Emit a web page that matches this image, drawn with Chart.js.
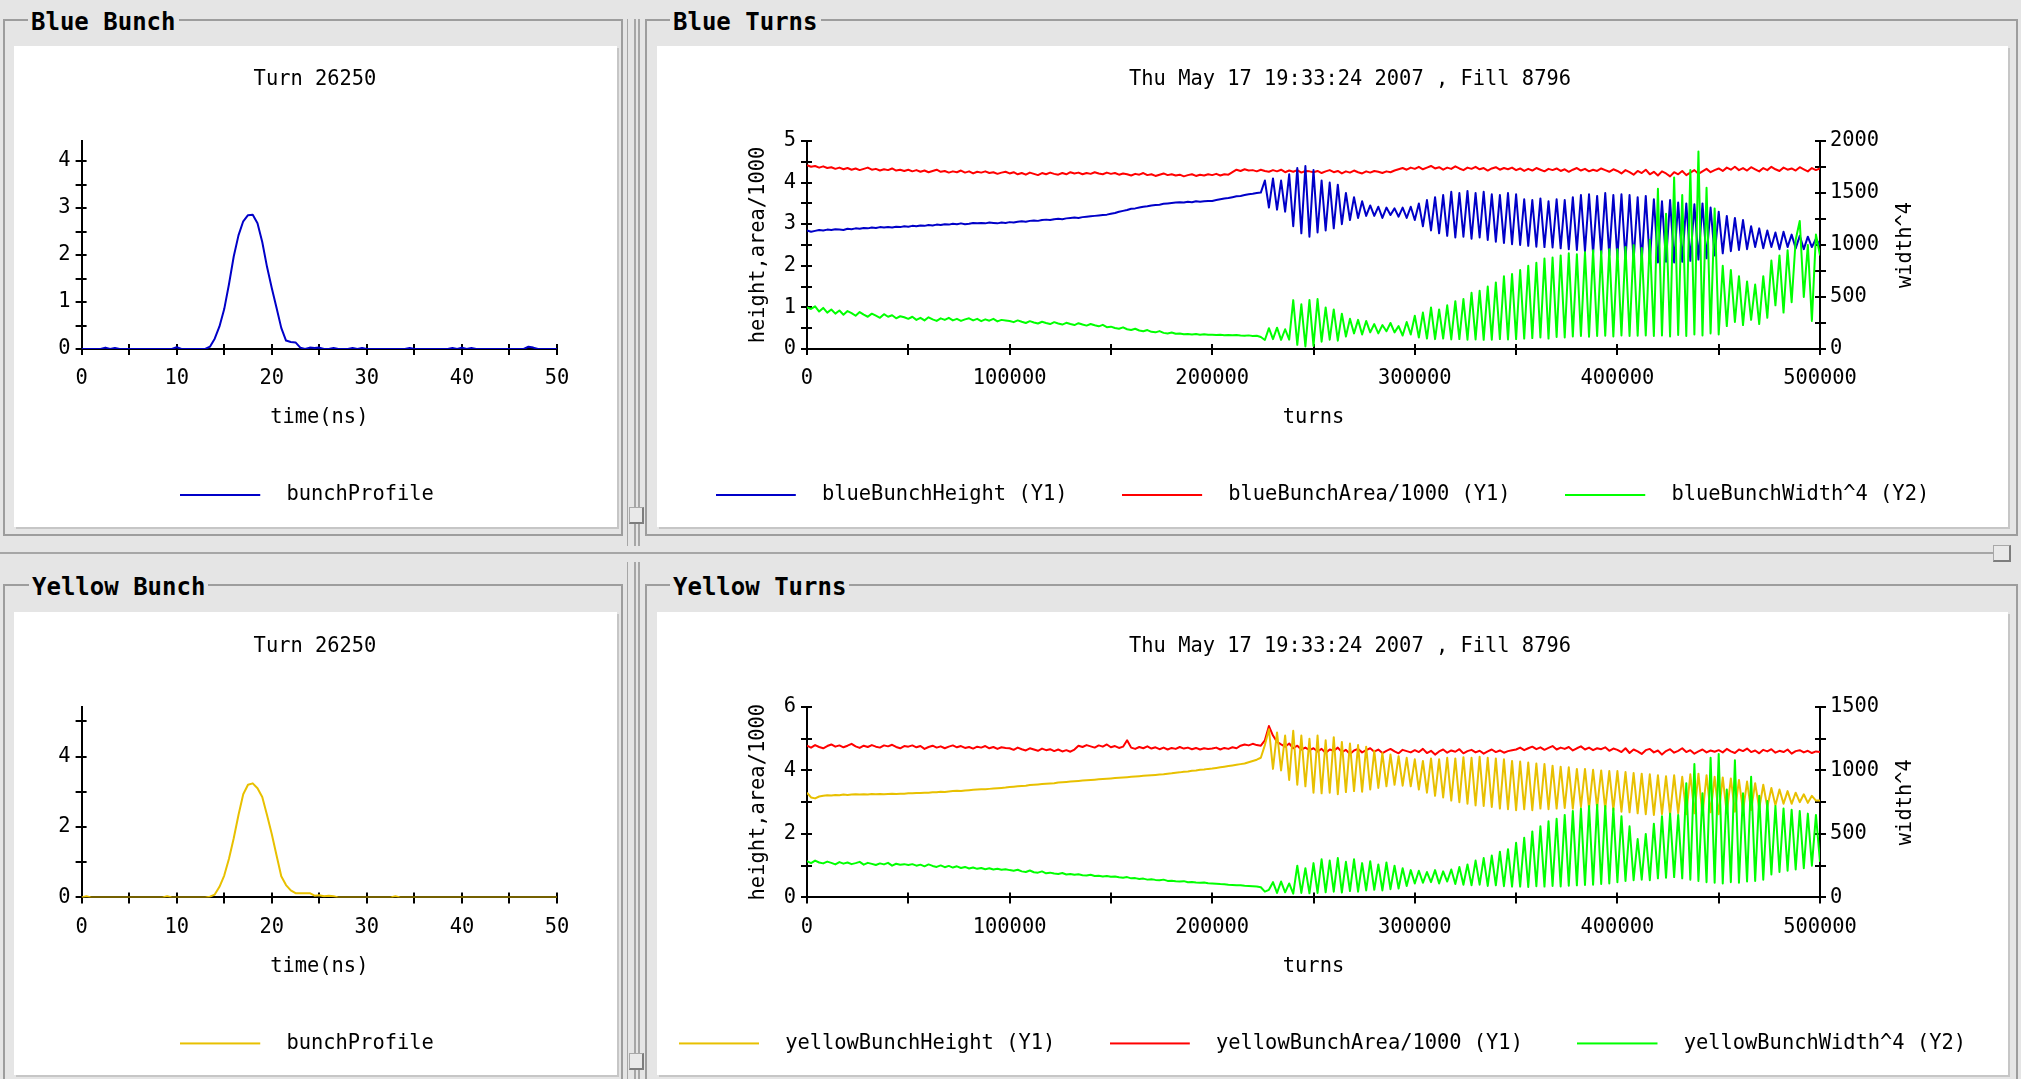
<!DOCTYPE html>
<html><head><meta charset="utf-8"><title>Bunch monitor</title>
<script src="https://cdn.jsdelivr.net/npm/chart.js@4.4.1/dist/chart.umd.min.js"></script>
<style>
html,body{margin:0;padding:0}
body{width:2021px;height:1079px;background:#e5e5e5;position:relative;overflow:hidden}
.frame{position:absolute;box-sizing:border-box;border:2px solid #9d9d9d}
.white{position:absolute;background:#fff;box-shadow:2px 2px 0 #c6c6c6}
.ptitle{position:absolute;background:#e5e5e5;font:bold 24px 'DejaVu Sans Mono',monospace;color:#000;line-height:28px;height:28px;padding:0 3px;white-space:pre}
.line{position:absolute;background:#a6a6a6}
.handle{position:absolute;box-sizing:border-box;background:#e9e9e9;border:1px solid #a8a8a8;border-right:2px solid #7d7d7d;border-bottom:2px solid #7d7d7d}
canvas{position:absolute;display:block}
</style></head><body>
<div class="frame" style="left:3px;top:19px;width:620px;height:517px"></div>
<div class="frame" style="left:645px;top:19px;width:1373px;height:517px"></div>
<div class="frame" style="left:3px;top:584px;width:620px;height:510px"></div>
<div class="frame" style="left:645px;top:584px;width:1373px;height:510px"></div>
<div class="line" style="left:627px;top:19px;width:1px;height:527px"></div>
<div class="line" style="left:634px;top:19px;width:2px;height:527px"></div>
<div class="line" style="left:638px;top:19px;width:2px;height:527px"></div>
<div class="line" style="left:627px;top:562px;width:1px;height:517px"></div>
<div class="line" style="left:634px;top:562px;width:2px;height:517px"></div>
<div class="line" style="left:638px;top:562px;width:2px;height:517px"></div>
<div class="line" style="left:0;top:552px;width:1993px;height:2px"></div>
<div class="handle" style="left:629px;top:507px;width:15px;height:17px"></div>
<div class="handle" style="left:629px;top:1053px;width:15px;height:17px"></div>
<div class="handle" style="left:1993px;top:545px;width:18px;height:17px"></div>
<div class="white" style="left:14px;top:46px;width:603px;height:481px"></div>
<div class="white" style="left:657px;top:46px;width:1351px;height:481px"></div>
<div class="white" style="left:14px;top:612px;width:603px;height:463px"></div>
<div class="white" style="left:657px;top:612px;width:1351px;height:463px"></div>
<div class="ptitle" style="left:28px;top:8px">Blue Bunch</div>
<div class="ptitle" style="left:670px;top:8px">Blue Turns</div>
<div class="ptitle" style="left:29px;top:573px">Yellow Bunch</div>
<div class="ptitle" style="left:670px;top:573px">Yellow Turns</div>
<canvas id="cBB" width="603" height="481" style="left:14px;top:46px"></canvas>
<canvas id="cYB" width="603" height="463" style="left:14px;top:612px"></canvas>
<canvas id="cBT" width="1560" height="481" style="left:560px;top:46px"></canvas>
<canvas id="cYT" width="1560" height="463" style="left:560px;top:612px"></canvas>
<script>
const FONT = "'DejaVu Sans Mono', 'Liberation Mono', monospace";
const FS = 20.4;

// ---------------- data ----------------
const bunchTime = [
0,0.5,1,1.5,2,2.5,3,3.5,4,4.5,
5,5.5,6,6.5,7,7.5,8,8.5,9,9.5,
10,10.5,11,11.5,12,12.5,13,13.5,14,14.5,
15,15.5,16,16.5,17,17.5,18,18.5,19,19.5,
20,20.5,21,21.5,22,22.5,23,23.5,24,24.5,
25,25.5,26,26.5,27,27.5,28,28.5,29,29.5,
30,30.5,31,31.5,32,32.5,33,33.5,34,34.5,
35,35.5,36,36.5,37,37.5,38,38.5,39,39.5,
40,40.5,41,41.5,42,42.5,43,43.5,44,44.5,
45,45.5,46,46.5,47,47.5,48,48.5,49,49.5,
50];
const blueProfile = [
0,0,0,0,0,0.03,0,0.02,0,0,
0,0,0,0,0,0,0,0,0,0,
0.04,0,0,0,0,0,0,0.05,0.22,0.48,
0.85,1.38,1.97,2.42,2.72,2.85,2.86,2.68,2.28,1.75,
1.3,0.88,0.45,0.18,0.15,0.14,0.03,0,0.03,0.02,
0.03,0,0,0.02,0,0,0,0.02,0,0.02,
0,0,0,0,0,0,0,0,0,0.02,
0,0,0,0,0,0,0,0,0.02,0,
0.03,0,0.02,0,0,0,0,0,0,0,
0,0,0,0,0.05,0.03,0,0,0,0,
0];
const yellowProfile = [
0,0.03,0,0,0,0,0,0,0,0,
0,0,0,0,0,0,0,0,0.03,0,
0,0,0,0,0,0,0,0.02,0.08,0.3,
0.62,1.1,1.68,2.34,2.93,3.2,3.24,3.1,2.85,2.34,
1.8,1.2,0.6,0.35,0.2,0.12,0.12,0.12,0.12,0.05,
0.06,0.03,0.05,0.03,0,0,0,0,0,0,
0,0,0,0,0,0,0.03,0,0,0,
0,0,0,0,0,0,0,0,0,0,
0,0,0,0,0,0,0,0,0,0,
0,0,0,0,0,0,0,0,0,0,
0];

const turns = [
0,2000,4000,6000,8000,10000,12000,14000,16000,18000,20000,22000,24000,26000,28000,30000,32000,34000,36000,38000,40000,42000,44000,46000,48000,
50000,52000,54000,56000,58000,60000,62000,64000,66000,68000,70000,72000,74000,76000,78000,80000,82000,84000,86000,88000,90000,92000,94000,96000,98000,
100000,102000,104000,106000,108000,110000,112000,114000,116000,118000,120000,122000,124000,126000,128000,130000,132000,134000,136000,138000,140000,142000,144000,146000,148000,
150000,152000,154000,156000,158000,160000,162000,164000,166000,168000,170000,172000,174000,176000,178000,180000,182000,184000,186000,188000,190000,192000,194000,196000,198000,
200000,202000,204000,206000,208000,210000,212000,214000,216000,218000,220000,222000,224000,226000,228000,230000,232000,234000,236000,238000,240000,242000,244000,246000,248000,
250000,252000,254000,256000,258000,260000,262000,264000,266000,268000,270000,272000,274000,276000,278000,280000,282000,284000,286000,288000,290000,292000,294000,296000,298000,
300000,302000,304000,306000,308000,310000,312000,314000,316000,318000,320000,322000,324000,326000,328000,330000,332000,334000,336000,338000,340000,342000,344000,346000,348000,
350000,352000,354000,356000,358000,360000,362000,364000,366000,368000,370000,372000,374000,376000,378000,380000,382000,384000,386000,388000,390000,392000,394000,396000,398000,
400000,402000,404000,406000,408000,410000,412000,414000,416000,418000,420000,422000,424000,426000,428000,430000,432000,434000,436000,438000,440000,442000,444000,446000,448000,
450000,452000,454000,456000,458000,460000,462000,464000,466000,468000,470000,472000,474000,476000,478000,480000,482000,484000,486000,488000,490000,492000,494000,496000,498000,
500000];

const blueBunchHeight = [
2.85,2.82,2.84,2.86,2.85,2.87,2.86,2.88,2.87,2.86,2.89,2.88,2.90,2.89,2.91,2.90,2.92,2.91,2.93,2.92,2.93,2.92,2.94,2.93,2.95,
2.94,2.96,2.95,2.97,2.96,2.98,2.97,2.99,2.98,3.00,2.99,3.01,3.00,3.02,3.00,3.01,3.03,3.02,3.03,3.02,3.04,3.03,3.02,3.04,3.03,
3.05,3.04,3.06,3.07,3.06,3.08,3.09,3.08,3.10,3.11,3.10,3.12,3.13,3.12,3.14,3.15,3.16,3.15,3.17,3.18,3.19,3.20,3.21,3.22,3.23,
3.25,3.27,3.30,3.32,3.34,3.37,3.38,3.40,3.42,3.43,3.45,3.46,3.47,3.49,3.50,3.51,3.52,3.53,3.52,3.54,3.53,3.55,3.54,3.55,3.56,
3.56,3.58,3.60,3.62,3.63,3.65,3.67,3.68,3.70,3.72,3.73,3.75,3.76,4.05,3.40,4.10,3.35,4.05,3.30,4.20,2.95,4.35,2.78,4.40,2.70,
4.30,2.80,4.05,2.85,4.00,2.90,3.95,3.00,3.75,3.10,3.65,3.15,3.55,3.20,3.45,3.20,3.42,3.15,3.40,3.22,3.38,3.18,3.40,3.15,3.42,
3.10,3.50,2.95,3.58,2.85,3.65,2.78,3.70,2.72,3.78,2.68,3.75,2.70,3.80,2.65,3.75,2.68,3.78,2.62,3.72,2.58,3.70,2.55,3.75,2.52,
3.72,2.50,3.60,2.48,3.58,2.46,3.62,2.45,3.55,2.44,3.60,2.42,3.58,2.40,3.65,2.38,3.70,2.35,3.72,2.30,3.68,2.28,3.75,2.25,3.70,
2.20,3.72,2.15,3.70,2.12,3.65,2.10,3.68,2.10,3.60,2.08,3.55,2.10,3.58,2.08,3.52,2.10,3.50,2.12,3.48,2.15,3.50,2.18,3.40,2.25,
3.30,2.30,3.20,2.35,3.15,2.38,3.10,2.40,2.95,2.45,2.90,2.42,2.85,2.45,2.80,2.40,2.82,2.45,2.75,2.42,2.72,2.40,2.70,2.45,2.65,
2.50];
const blueBunchArea = [
4.42,4.38,4.40,4.36,4.39,4.35,4.37,4.33,4.36,4.32,4.35,4.31,4.34,4.30,4.33,4.36,4.31,4.33,4.29,4.32,4.30,4.34,4.29,4.31,4.28,
4.31,4.27,4.30,4.26,4.29,4.25,4.28,4.31,4.26,4.28,4.24,4.27,4.25,4.29,4.24,4.27,4.22,4.26,4.24,4.27,4.23,4.25,4.21,4.24,4.26,
4.22,4.25,4.20,4.23,4.19,4.24,4.21,4.18,4.23,4.20,4.24,4.21,4.19,4.23,4.20,4.25,4.22,4.24,4.20,4.23,4.21,4.25,4.22,4.20,4.24,
4.21,4.23,4.19,4.22,4.20,4.17,4.21,4.19,4.23,4.18,4.20,4.16,4.19,4.22,4.18,4.20,4.17,4.19,4.15,4.18,4.20,4.16,4.19,4.17,4.20,
4.18,4.21,4.17,4.20,4.19,4.25,4.31,4.28,4.32,4.29,4.30,4.27,4.31,4.28,4.26,4.30,4.27,4.31,4.25,4.29,4.26,4.30,4.24,4.28,4.27,
4.25,4.28,4.23,4.27,4.30,4.25,4.28,4.22,4.27,4.24,4.29,4.25,4.22,4.27,4.24,4.28,4.26,4.23,4.27,4.25,4.29,4.32,4.35,4.31,4.36,
4.33,4.38,4.32,4.36,4.40,4.34,4.37,4.31,4.36,4.33,4.39,4.34,4.30,4.36,4.33,4.38,4.32,4.35,4.29,4.34,4.37,4.31,4.35,4.32,4.36,
4.30,4.34,4.28,4.33,4.29,4.35,4.31,4.27,4.33,4.30,4.34,4.28,4.32,4.26,4.31,4.35,4.29,4.33,4.27,4.31,4.28,4.34,4.30,4.26,4.32,
4.28,4.22,4.30,4.25,4.19,4.28,4.23,4.31,4.20,4.26,4.17,4.27,4.22,4.15,4.25,4.20,4.28,4.18,4.24,4.30,4.21,4.27,4.33,4.25,4.30,
4.34,4.28,4.36,4.31,4.38,4.30,4.35,4.29,4.37,4.32,4.27,4.35,4.30,4.38,4.32,4.28,4.36,4.31,4.34,4.29,4.37,4.32,4.27,4.35,4.30,
4.34];
const blueBunchWidth4 = [
400,385,410,360,395,350,380,340,370,330,365,345,320,355,330,310,340,320,300,335,310,325,295,315,305,
290,310,280,300,275,305,285,270,295,280,300,275,290,270,285,295,275,290,268,285,272,290,265,280,275,
270,258,275,262,250,268,255,245,262,250,240,258,245,235,252,240,230,248,236,225,240,228,218,232,210,
215,202,195,208,190,182,195,178,170,182,165,160,172,155,150,158,146,150,142,145,140,144,138,142,136,
138,135,137,133,135,132,134,130,128,131,126,128,115,87,200,95,205,88,190,90,470,40,430,25,470,
30,480,70,400,90,380,80,340,120,290,150,280,140,270,160,240,150,230,170,250,160,220,130,260,140,
320,110,350,100,400,95,380,100,420,92,460,95,480,90,540,92,560,88,600,90,640,95,700,92,720,
95,760,100,800,105,830,110,870,100,880,115,900,110,920,120,910,125,930,118,950,125,940,128,960,120,
960,130,980,125,1000,128,970,130,1050,125,1540,130,1300,120,1650,135,1480,125,1720,140,1900,130,1550,150,1350,
140,800,220,760,260,700,230,650,280,620,240,700,300,850,420,900,350,950,450,1050,1230,500,1000,270,1100,
900];

const yellowBunchHeight = [
3.30,3.15,3.12,3.18,3.20,3.22,3.21,3.23,3.22,3.24,3.23,3.24,3.25,3.24,3.25,3.24,3.26,3.25,3.26,3.25,3.26,3.27,3.26,3.27,3.27,
3.28,3.28,3.29,3.29,3.30,3.30,3.31,3.31,3.33,3.32,3.34,3.35,3.36,3.35,3.37,3.38,3.39,3.40,3.41,3.41,3.42,3.43,3.44,3.45,3.46,
3.48,3.49,3.50,3.51,3.52,3.54,3.55,3.56,3.57,3.58,3.59,3.60,3.62,3.63,3.64,3.65,3.66,3.67,3.68,3.69,3.70,3.71,3.72,3.73,3.74,
3.75,3.76,3.77,3.78,3.79,3.80,3.81,3.82,3.83,3.84,3.85,3.86,3.87,3.88,3.90,3.91,3.93,3.94,3.96,3.97,3.99,4.00,4.02,4.03,4.05,
4.06,4.08,4.10,4.12,4.14,4.16,4.18,4.20,4.22,4.26,4.30,4.34,4.40,4.80,5.30,4.05,5.20,4.00,5.10,3.70,5.25,3.55,5.10,3.50,5.00,
3.30,5.10,3.28,4.95,3.30,5.05,3.25,4.90,3.32,4.85,3.35,4.80,3.33,4.75,3.40,4.62,3.45,4.55,3.50,4.50,3.55,4.45,3.52,4.40,3.50,
4.35,3.40,4.30,3.30,4.38,3.20,4.35,3.15,4.40,3.05,4.38,3.00,4.42,2.95,4.40,2.90,4.43,2.88,4.40,2.85,4.38,2.80,4.35,2.78,4.30,
2.75,4.28,2.78,4.25,2.75,4.22,2.80,4.20,2.78,4.15,2.80,4.12,2.82,4.10,2.80,4.05,2.85,4.05,2.80,4.02,2.82,4.00,2.78,3.98,2.75,
3.98,2.70,3.95,2.68,3.92,2.65,3.90,2.62,3.88,2.60,3.85,2.62,3.82,2.60,3.85,2.65,3.80,2.62,3.88,2.65,3.90,2.60,3.85,2.68,3.80,
2.62,3.78,2.65,3.75,2.70,3.70,2.72,3.65,2.75,3.60,2.80,3.55,2.85,3.45,2.90,3.40,2.95,3.35,2.95,3.30,3.00,3.25,2.98,3.20,3.05,
3.05];
const yellowBunchArea = [
4.78,4.72,4.80,4.74,4.70,4.77,4.82,4.75,4.79,4.73,4.78,4.84,4.76,4.71,4.78,4.74,4.80,4.75,4.72,4.79,4.76,4.81,4.74,4.70,4.77,
4.75,4.79,4.73,4.77,4.68,4.74,4.78,4.72,4.76,4.70,4.75,4.79,4.73,4.77,4.71,4.74,4.69,4.75,4.72,4.77,4.70,4.74,4.68,4.73,4.71,
4.70,4.65,4.72,4.67,4.63,4.70,4.66,4.62,4.69,4.64,4.67,4.61,4.66,4.60,4.64,4.59,4.66,4.78,4.74,4.80,4.76,4.72,4.79,4.75,4.82,
4.73,4.77,4.71,4.75,4.95,4.72,4.68,4.74,4.70,4.76,4.69,4.73,4.67,4.72,4.66,4.71,4.68,4.74,4.69,4.72,4.67,4.71,4.66,4.70,4.68,
4.69,4.72,4.66,4.71,4.68,4.73,4.70,4.78,4.82,4.79,4.84,4.80,4.78,4.95,5.40,5.10,4.90,4.82,4.75,4.85,4.70,4.78,4.66,4.72,4.64,
4.70,4.60,4.68,4.55,4.66,4.62,4.72,4.58,4.65,4.52,4.63,4.68,4.57,4.64,4.70,4.59,4.66,4.55,4.62,4.68,4.60,4.54,4.65,4.61,4.57,
4.64,4.58,4.68,4.55,4.62,4.50,4.60,4.66,4.56,4.63,4.59,4.67,4.54,4.61,4.65,4.57,4.62,4.53,4.60,4.66,4.58,4.63,4.56,4.61,4.64,
4.66,4.72,4.64,4.70,4.75,4.67,4.73,4.65,4.71,4.77,4.66,4.72,4.68,4.74,4.63,4.70,4.76,4.66,4.72,4.64,4.70,4.67,4.73,4.62,4.69,
4.65,4.58,4.70,4.55,4.66,4.60,4.52,4.64,4.68,4.57,4.63,4.50,4.61,4.67,4.56,4.62,4.70,4.58,4.64,4.53,4.60,4.66,4.57,4.63,4.59,
4.64,4.57,4.68,4.60,4.55,4.66,4.61,4.69,4.58,4.63,4.54,4.65,4.60,4.67,4.56,4.62,4.58,4.66,4.53,4.61,4.64,4.57,4.62,4.55,4.60,
4.58];
const yellowBunchWidth4 = [
285,270,290,275,268,282,272,260,278,266,275,262,270,280,258,272,264,255,268,260,272,250,265,258,262,
255,262,250,258,245,260,248,240,252,238,248,235,245,232,240,228,236,225,232,222,230,220,226,218,222,
215,210,218,205,200,212,198,195,205,190,195,188,185,192,180,185,178,182,175,172,178,168,170,165,168,
162,165,158,155,160,150,152,145,148,140,143,138,135,140,130,132,128,125,128,120,122,118,115,118,112,
110,108,105,103,100,98,95,96,92,90,88,86,80,45,60,120,35,125,40,110,30,250,35,230,32,
270,35,300,40,290,45,310,38,280,50,300,45,270,55,285,60,260,55,275,65,250,70,230,90,215,
110,210,115,200,120,215,110,205,125,220,105,240,100,260,95,290,100,310,90,330,95,360,88,380,85,
430,85,470,82,520,88,560,85,600,90,620,86,650,92,680,95,700,98,720,100,730,105,720,110,700,
120,640,130,560,135,460,140,500,135,580,150,640,155,660,160,650,150,900,140,1050,130,820,120,1100,115,
1130,110,850,120,1080,115,820,125,950,130,800,140,760,180,720,200,700,210,690,220,680,230,660,250,650,
280];

// tick positions
const bunchTimeTicks = [0,5,10,15,20,25,30,35,40,45,50];
const blueBunchYTicks = [0,0.5,1,1.5,2,2.5,3,3.5,4];
const yellowBunchYTicks = [0,1,2,3,4,5];
const turnTicks = [0,50000,100000,150000,200000,250000,300000,350000,400000,450000,500000];
const blueTurnsY1Ticks = [0,0.5,1,1.5,2,2.5,3,3.5,4,4.5,5];
const blueTurnsY2Ticks = [0,250,500,750,1000,1250,1500,1750,2000];
const yellowTurnsY1Ticks = [0,1,2,3,4,5,6];
const yellowTurnsY2Ticks = [0,250,500,750,1000,1250,1500];

const bunchTitle = 'Turn 26250';
const turnsTitle = 'Thu May 17 19:33:24 2007 , Fill 8796';

// ---------------- styling / helpers ----------------
const BLUE = '#0000c8', RED = '#ff0000', GREEN = '#00ff00', YELLOW = '#e8c000';

function pts(xs, ys){ return xs.map((x, i) => ({x: x, y: ys[i]})); }
function fnt(){ return {family: FONT, size: FS}; }

function xAxis(min, max, ticks, every, title){
  return {type:'linear', position:'bottom', min:min, max:max,
    afterBuildTicks: s => { s.ticks = ticks.map(v => ({value: v})); },
    afterFit: s => { s.height = 81.24; },
    grid:{drawOnChartArea:false, drawTicks:true, tickLength:6, lineWidth:2, color:'#000'},
    border:{display:true, color:'#000', width:2},
    ticks:{autoSkip:false, maxRotation:0, minRotation:0, padding:11.76, color:'#000', font:fnt(),
      callback: v => (v % every === 0 ? String(v) : '')},
    title:{display:true, text:title, color:'#000', font:fnt(), padding:{top:0, bottom:0}}};
}
function yAxis(pos, min, max, ticks, every, width, title, titlePad){
  return {type:'linear', position:pos, min:min, max:max,
    afterBuildTicks: s => { s.ticks = ticks.map(v => ({value: v})); },
    afterFit: s => { s.width = width; },
    grid:{drawOnChartArea:false, drawTicks:true, tickLength:6, lineWidth:2, color:'#000'},
    border:{display:true, color:'#000', width:2},
    ticks:{autoSkip:false, padding:(pos === 'left' ? 5 : 4), color:'#000', font:fnt(),
      callback: v => (v % every === 0 ? String(v) : '')},
    title:{display:!!title, text:title || '', color:'#000', font:fnt(), padding:{top:titlePad || 0, bottom:0}}};
}
function swatch(color){
  const c = document.createElement('canvas');
  c.width = 96; c.height = 4;
  const g = c.getContext('2d');
  g.strokeStyle = color; g.lineWidth = 2;
  g.beginPath(); g.moveTo(0, 2); g.lineTo(80, 2); g.stroke();
  return c;
}
function legendCfg(){
  return {display:true, position:'bottom', align:'center',
    labels:{usePointStyle:true, pointStyleWidth:96, padding:54.56, color:'#000', font:fnt(),
      generateLabels: ch => ch.data.datasets.map((d, i) => ({
        text:d.label, datasetIndex:i, hidden:false, pointStyle:swatch(d.borderColor),
        fillStyle:d.borderColor, strokeStyle:d.borderColor, lineWidth:0, fontColor:'#000'}))}};
}
const decor = {
  id:'decor',
  beforeDatasetsDraw(chart){
    const ctx = chart.ctx, a = chart.chartArea;
    ctx.save(); ctx.strokeStyle = '#000'; ctx.lineWidth = 2;
    Object.values(chart.scales).forEach(s => {
      s.ticks.forEach(t => {
        const p = Math.round(s.getPixelForValue(t.value));
        ctx.beginPath();
        if (s.axis === 'x') { ctx.moveTo(p, a.bottom); ctx.lineTo(p, a.bottom - 5); }
        else if (s.position === 'left') { ctx.moveTo(a.left, p); ctx.lineTo(a.left + 5, p); }
        else { ctx.moveTo(a.right, p); ctx.lineTo(a.right - 5, p); }
        ctx.stroke();
      });
    });
    ctx.restore();
  },
  afterDraw(chart, args, o){
    const ctx = chart.ctx, a = chart.chartArea;
    ctx.save(); ctx.fillStyle = '#000'; ctx.font = FS + 'px ' + FONT;
    ctx.textAlign = 'center'; ctx.textBaseline = 'middle';
    if (o.title) ctx.fillText(o.title, o.titleX, o.titleY);
    if (o.rightTitle) {
      ctx.translate(a.right + o.rightDx, (a.top + a.bottom) / 2);
      ctx.rotate(-Math.PI / 2);
      ctx.fillText(o.rightTitle, 0, 0);
    }
    ctx.restore();
  }
};
function line(label, xs, ys, color, axis, order){
  return {label:label, data:pts(xs, ys), borderColor:color, backgroundColor:color, borderWidth:2,
    pointRadius:0, tension:0, fill:false, borderJoinStyle:'round', yAxisID:axis, order:order};
}
function makeChart(id, datasets, scales, pad, deco){
  return new Chart(document.getElementById(id), {
    type:'line',
    data:{datasets:datasets},
    options:{responsive:false, animation:false, devicePixelRatio:1, events:[],
      layout:{padding:pad}, scales:scales,
      plugins:{legend:legendCfg(), tooltip:{enabled:false}, title:{display:false}, decor:deco}},
    plugins:[decor]
  });
}

// Blue Bunch
makeChart('cBB',
  [line('bunchProfile', bunchTime, blueProfile, BLUE, 'y', 0)],
  {x:xAxis(0, 50, bunchTimeTicks, 10, 'time(ns)'),
   y:yAxis('left', 0, 4.43, blueBunchYTicks, 1, 24.6)},
  {left:43, right:60, top:95, bottom:11.8},
  {title:bunchTitle, titleX:301, titleY:34});

// Yellow Bunch
makeChart('cYB',
  [line('bunchProfile', bunchTime, yellowProfile, YELLOW, 'y', 0)],
  {x:xAxis(0, 50, bunchTimeTicks, 10, 'time(ns)'),
   y:yAxis('left', 0, 5.41, yellowBunchYTicks, 2, 24.6)},
  {left:43, right:60, top:95, bottom:11.4},
  {title:bunchTitle, titleX:301, titleY:34.5});

// Blue Turns
makeChart('cBT',
  [line('blueBunchHeight (Y1)', turns, blueBunchHeight, BLUE, 'y', 1),
   line('blueBunchArea/1000 (Y1)', turns, blueBunchArea, RED, 'y', 2),
   line('blueBunchWidth^4 (Y2)', turns, blueBunchWidth4, GREEN, 'y2', 0)],
  {x:xAxis(0, 500000, turnTicks, 100000, 'turns'),
   y:yAxis('left', 0, 5, blueTurnsY1Ticks, 1, 227, 'height,area/1000', 166.76),
   y2:yAxis('right', 0, 2000, blueTurnsY2Ticks, 500, 245)},
  {left:20, right:55, top:95, bottom:11.8},
  {title:turnsTitle, titleX:790, titleY:34, rightTitle:'width^4', rightDx:85.6});

// Yellow Turns
makeChart('cYT',
  [line('yellowBunchHeight (Y1)', turns, yellowBunchHeight, YELLOW, 'y', 1),
   line('yellowBunchArea/1000 (Y1)', turns, yellowBunchArea, RED, 'y', 2),
   line('yellowBunchWidth^4 (Y2)', turns, yellowBunchWidth4, GREEN, 'y2', 0)],
  {x:xAxis(0, 500000, turnTicks, 100000, 'turns'),
   y:yAxis('left', 0, 6, yellowTurnsY1Ticks, 2, 227, 'height,area/1000', 166.76),
   y2:yAxis('right', 0, 1500, yellowTurnsY2Ticks, 500, 245)},
  {left:20, right:55, top:95, bottom:11.4},
  {title:turnsTitle, titleX:790, titleY:34.5, rightTitle:'width^4', rightDx:85.6});
</script>
</body></html>
